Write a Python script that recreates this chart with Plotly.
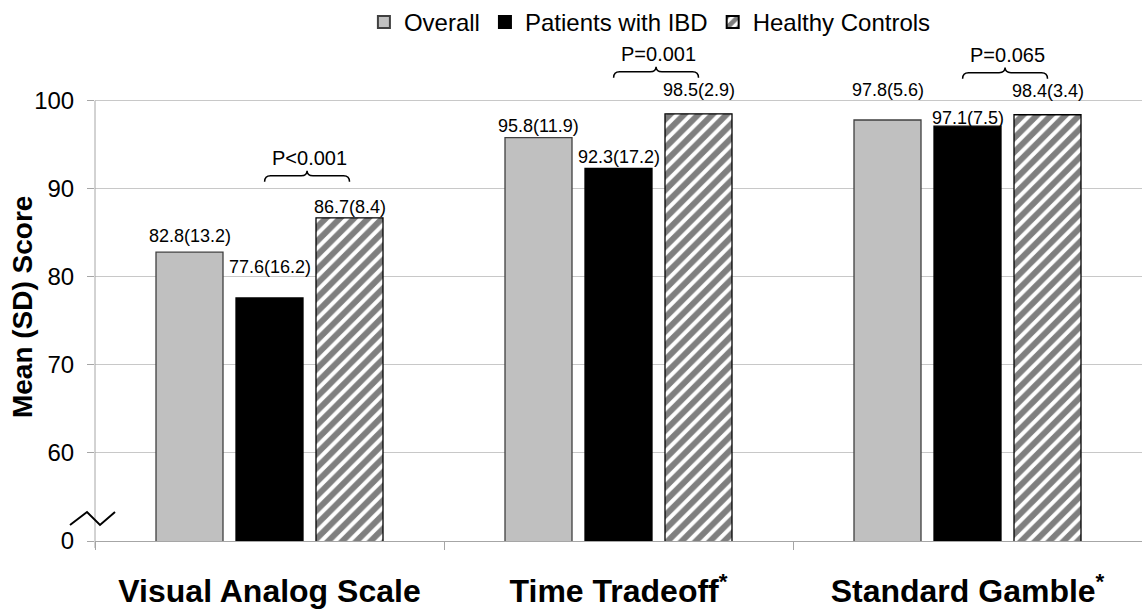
import plotly.graph_objects as go

# ---------------- data ----------------
categories = ["Visual Analog Scale", "Time Tradeoff<sup>*</sup>", "Standard Gamble<sup>*</sup>"]
series_names = ["Overall", "Patients with IBD", "Healthy Controls"]
overall_mean = [82.8, 95.8, 97.8]
overall_sd = [13.2, 11.9, 5.6]
ibd_mean = [77.6, 92.3, 97.1]
ibd_sd = [16.2, 17.2, 7.5]
healthy_mean = [86.7, 98.5, 98.4]
healthy_sd = [8.4, 2.9, 3.4]
p_values = ["P<0.001", "P=0.001", "P=0.065"]
y_tick_vals = [50, 60, 70, 80, 90, 100]
y_tick_text = ["0", "60", "70", "80", "90", "100"]
y_title = "Mean (SD) Score"

# ---------------- layout params ----------------
BARGAP = 0.3123
BARGROUPGAP = 0.1625
Y_MIN, Y_MAX = 50, 107
slot = (1 - BARGAP) / 3
FONT = "Liberation Sans, Arial, sans-serif"

# label vertical offsets (pixels above bar top)
label_shift = [[16, 31, 11], [12, 11, 24], [30, 8, 24]]

fig = go.Figure()
fig.add_trace(go.Bar(name=series_names[0], x=categories, y=overall_mean,
                     marker=dict(color="#c0c0c0", line=dict(color="#404040", width=1.3))))
fig.add_trace(go.Bar(name=series_names[1], x=categories, y=ibd_mean,
                     marker=dict(color="#000000", line=dict(color="#000000", width=1.3))))
fig.add_trace(go.Bar(name=series_names[2], x=categories, y=healthy_mean,
                     marker=dict(color="white", line=dict(color="#000000", width=1.3),
                                 pattern=dict(shape="/", fgcolor="black", bgcolor="white",
                                              size=10, solidity=0.6))))

annotations = []
shapes = []
means = [overall_mean, ibd_mean, healthy_mean]
sds = [overall_sd, ibd_sd, healthy_sd]
for i in range(len(categories)):
    for k in range(3):
        annotations.append(dict(
            x=i + (k - 1) * slot, y=means[k][i], xref="x", yref="y",
            text=f"{means[k][i]:.1f}({sds[k][i]:.1f})", showarrow=False,
            yanchor="middle", yshift=label_shift[i][k],
            font=dict(family=FONT, size=18, color="black")))
    # brace between IBD and healthy controls
    xa = i - 0.014
    xb = i + slot
    xm = (xa + xb) / 2
    base = max(ibd_mean[i], healthy_mean[i]) + 4.1
    yl = base + 0.68
    yt = base + 1.25
    dx = 0.017
    path = (f"M {xa},{base} Q {xa},{yl} {xa+dx},{yl} L {xm-dx},{yl} "
            f"Q {xm},{yl} {xm},{yt} Q {xm},{yl} {xm+dx},{yl} "
            f"L {xb-dx},{yl} Q {xb},{yl} {xb},{base}")
    shapes.append(dict(type="path", path=path, xref="x", yref="y",
                       line=dict(color="black", width=1.5)))
    annotations.append(dict(x=xm + 0.006, y=base + 2.7, xref="x", yref="y",
                            text=p_values[i], showarrow=False, yanchor="middle",
                            font=dict(family=FONT, size=20, color="black")))

# y-axis title as rotated annotation
annotations.append(dict(x=-0.0697, y=0.466, xref="paper", yref="paper",
                        text=f"<b>{y_title}</b>", textangle=-90, showarrow=False,
                        xanchor="center", yanchor="middle",
                        font=dict(family=FONT, size=28, color="black")))

# y-axis line (stops at 100)
shapes.append(dict(type="line", xref="paper", yref="paper", x0=0, x1=0,
                   y0=-0.014, y1=(100 - Y_MIN) / (Y_MAX - Y_MIN),
                   line=dict(color="#a6a6a6", width=1)))
# axis break zigzag
zz = [(-0.02388, 0.03187), (-0.00764, 0.05777), (0.00478, 0.03187), (0.0191, 0.05777)]
zpath = "M " + " L ".join(f"{a},{b}" for a, b in zz)
shapes.append(dict(type="path", path=zpath, xref="paper", yref="paper",
                   line=dict(color="black", width=2)))

fig.update_layout(
    width=1142, height=616,
    margin=dict(l=95, r=0, t=39, b=75, autoexpand=False),
    paper_bgcolor="white", plot_bgcolor="white",
    barmode="group", bargap=BARGAP, bargroupgap=BARGROUPGAP,
    font=dict(family=FONT, color="black"),
    showlegend=True,
    legend=dict(orientation="h", x=0.53, xanchor="center",
                yref="container", y=1.0, yanchor="top",
                font=dict(family=FONT, size=24, color="black"),
                itemsizing="constant", traceorder="normal"),
    annotations=annotations,
    shapes=shapes,
    xaxis=dict(range=[-0.5, 2.5], showline=True, linecolor="#a6a6a6", linewidth=1,
               ticks="outside", tickson="boundaries", ticklen=8, tickcolor="#a6a6a6",
               showgrid=False, ticklabelstandoff=22, automargin=False,
               tickfont=dict(family=FONT, size=32, color="black", weight="bold")),
    yaxis=dict(range=[Y_MIN, Y_MAX], tickvals=y_tick_vals, ticktext=y_tick_text,
               showline=False, ticks="outside", ticklen=7, tickcolor="#a6a6a6",
               showgrid=True, gridcolor="#c8c8c8", gridwidth=1, zeroline=False,
               ticklabelstandoff=8, automargin=False,
               tickfont=dict(family=FONT, size=24, color="black")),
)

fig.write_html("out.html", config={"displayModeBar": False},
               post_script="document.body.style.margin='0';")
